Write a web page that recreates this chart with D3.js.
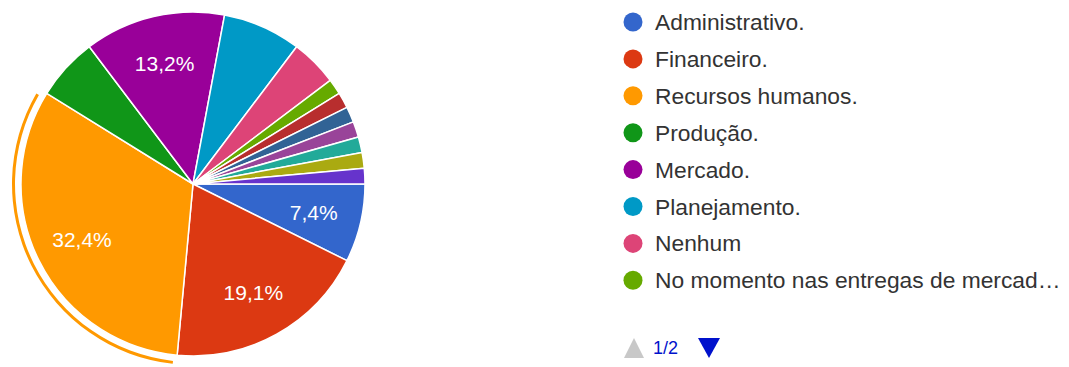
<!DOCTYPE html>
<html>
<head>
<meta charset="utf-8">
<script src="https://cdn.jsdelivr.net/npm/d3@7"></script>
<style>
  html, body { margin: 0; padding: 0; background: #fff; }
  svg { display: block; font-family: "Liberation Sans", Arial, sans-serif; }
</style>
</head>
<body>
<svg id="chart" width="1069" height="367"></svg>
<script>
// Answers (the legend shows page 1 of 2)
const categories = [
  "Administrativo.",
  "Financeiro.",
  "Recursos humanos.",
  "Produção.",
  "Mercado.",
  "Planejamento.",
  "Nenhum",
  "No momento nas entregas de mercad…",
  "Outra resposta 9",
  "Outra resposta 10",
  "Outra resposta 11",
  "Outra resposta 12",
  "Outra resposta 13",
  "Outra resposta 14"
];
// Number of responses per answer
const counts = [5, 13, 22, 4, 9, 5, 3, 1, 1, 1, 1, 1, 1, 1];
const colors = [
  "#3366cc", "#dc3912", "#ff9900", "#109618", "#990099", "#0099c6", "#dd4477",
  "#66aa00", "#b82e2e", "#316395", "#994499", "#22aa99", "#aaaa11", "#6633cc"
];
// Slices that carry a percentage label
const labeledSlices = [0, 1, 2, 4];
// Highlighted slice (outer ring)
const highlighted = 2;
const legendPage = "1/2";
const legendPageSize = 8;

const svg = d3.select("#chart");
const cx = 193, cy = 184, R = 172;

const total = d3.sum(counts);
const data = categories.map((c, i) => ({ name: c, value: counts[i], color: colors[i], i }));

const pie = d3.pie()
  .value(d => d.value)
  .sort(null)
  .startAngle(Math.PI / 2)
  .endAngle(Math.PI / 2 + 2 * Math.PI);

const arcs = pie(data);
const arc = d3.arc().innerRadius(0).outerRadius(R);
const labelArc = d3.arc().innerRadius(124).outerRadius(124);
const ringArc = d3.arc().innerRadius(178).outerRadius(181);

const g = svg.append("g").attr("transform", `translate(${cx},${cy})`);

g.selectAll("path.slice")
  .data(arcs)
  .join("path")
  .attr("class", "slice")
  .attr("d", arc)
  .attr("fill", d => d.data.color)
  .attr("stroke", "#fff")
  .attr("stroke-width", 1.5)
  .attr("stroke-linejoin", "round");

// Selection ring around the highlighted slice
const h = arcs[highlighted];
g.append("path")
  .attr("d", ringArc({ startAngle: h.startAngle + 0.02, endAngle: h.endAngle - 0.03 }))
  .attr("fill", h.data.color);

const pctFmt = v => (v / total * 100).toFixed(1).replace(".", ",") + "%";

g.selectAll("text.pct")
  .data(arcs.filter(d => labeledSlices.includes(d.data.i)))
  .join("text")
  .attr("class", "pct")
  .attr("transform", d => `translate(${labelArc.centroid(d)})`)
  .attr("text-anchor", "middle")
  .attr("dominant-baseline", "central")
  .attr("fill", "#fff")
  .attr("font-size", 21)
  .text(d => pctFmt(d.data.value));

// Legend
const legendX = 633, legendY = 22, rowH = 36.9;
const legend = svg.append("g");
const rows = legend.selectAll("g.row")
  .data(data.slice(0, legendPageSize))
  .join("g")
  .attr("class", "row")
  .attr("transform", (d, i) => `translate(${legendX},${legendY + i * rowH})`);

rows.append("circle")
  .attr("r", 9.5)
  .attr("fill", d => d.color);

rows.append("text")
  .attr("x", 22)
  .attr("dominant-baseline", "central")
  .attr("font-size", 22.8)
  .attr("fill", "#333")
  .text(d => d.name);

// Pager
const pager = svg.append("g").attr("transform", "translate(634,348)");
pager.append("path")
  .attr("d", "M-10,10L10,10L0,-10Z")
  .attr("fill", "#c8c8c8");
pager.append("text")
  .attr("x", 19)
  .attr("dominant-baseline", "central")
  .attr("font-size", 18)
  .attr("fill", "#0011cc")
  .text(legendPage);
pager.append("path")
  .attr("d", "M-11,-10L11,-10L0,10Z")
  .attr("transform", "translate(75,0)")
  .attr("fill", "#0011cc");
</script>
</body>
</html>
